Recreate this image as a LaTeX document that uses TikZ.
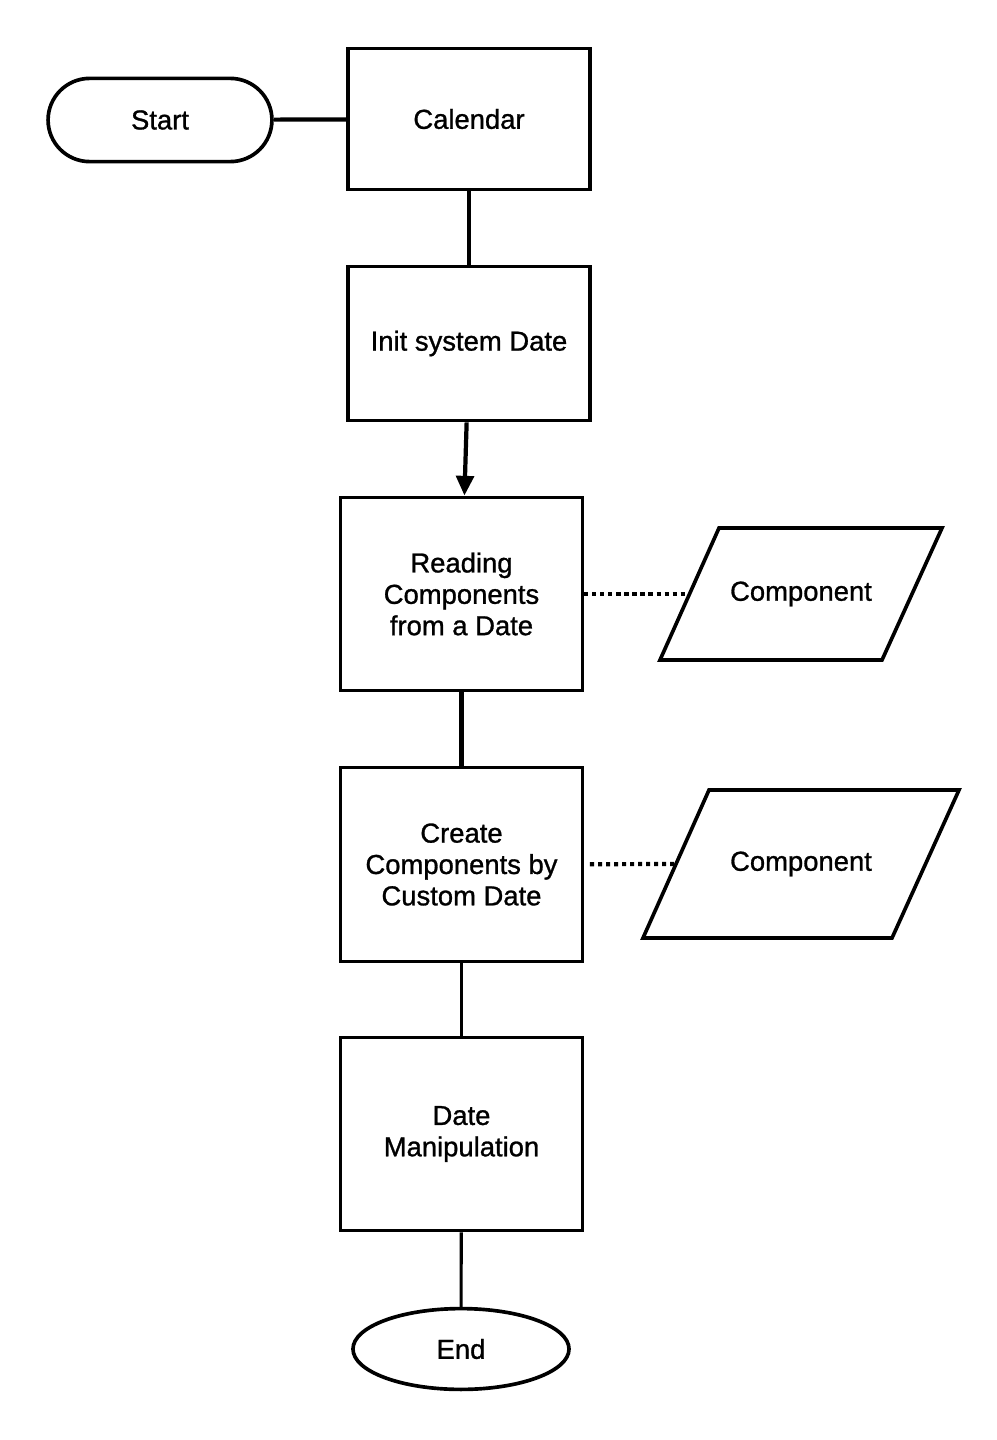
\documentclass[tikz,border=0pt]{standalone}
\usepackage{fontspec}
\setmainfont{Liberation Sans}[BoldFont=Liberation Sans, BoldFeatures={FakeBold=1}]
\usetikzlibrary{shapes.geometric, shapes.misc, arrows.meta}

\begin{document}
\begin{tikzpicture}[x=0.025cm, y=-0.025cm,
    every node/.style={font=\fontsize{19.5}{22.3}\selectfont\bfseries, align=center},
    box/.style={draw, line width=2.6pt, minimum width=6.05cm, inner sep=0pt},
    io/.style={line width=2.6pt, line join=miter},
    link/.style={line width=3pt},
    dots/.style={line width=3pt, dash pattern=on 2.9pt off 2.8pt}]
    \useasboundingbox[fill=white] (0,0) rectangle (996,1440);
    \node[draw, line width=2.6pt, rounded rectangle, minimum width=5.83cm, minimum height=2.08cm] (start) at (160,120) {Start};
    \node[box, minimum height=3.52cm] (cal) at (469,119) {Calendar};
    \node[box, minimum height=3.85cm] (init) at (469,343.5) {Init system Date};
    \node[box, minimum height=4.83cm] (read) at (461.5,594) {Reading\\Components\\from a Date};
    \node[box, minimum height=4.85cm] (create) at (461.5,864.5) {Create\\Components by\\Custom Date};
    \node[box, minimum height=4.83cm] (manip) at (461.5,1134) {Date\\Manipulation};
    \node[draw, ellipse, line width=2.6pt, minimum width=5.4cm, minimum height=2.02cm] (end) at (461,1349) {End};
    % parallelograms
    \node (comp1) at (801,594) {Component};
    \draw[io] (719,528) -- (942,528) -- (882,660) -- (660,660) -- cycle;
    \coordinate (comp1in) at (690,594);
    \node (comp2) at (801,864) {Component};
    \draw[io] (709,790) -- (959,790) -- (892,938) -- (643,938) -- cycle;
    \coordinate (comp2in) at (677,864);
    \draw[link] (start) -- (cal);
    \draw[link] (cal) -- (init);
    \draw[link, -{Triangle[length=14pt, width=12.5pt]}] (init) -- (read);
    \draw[link] (read) -- (create);
    \draw[link, line width=1.8pt] (create) -- (manip);
    \draw[link, line width=2.2pt] (manip) -- (end);
    \draw[dots] (read) -- (comp1in);
    \draw[dots, shorten <=4pt] (create) -- (comp2in);
\end{tikzpicture}
\end{document}
